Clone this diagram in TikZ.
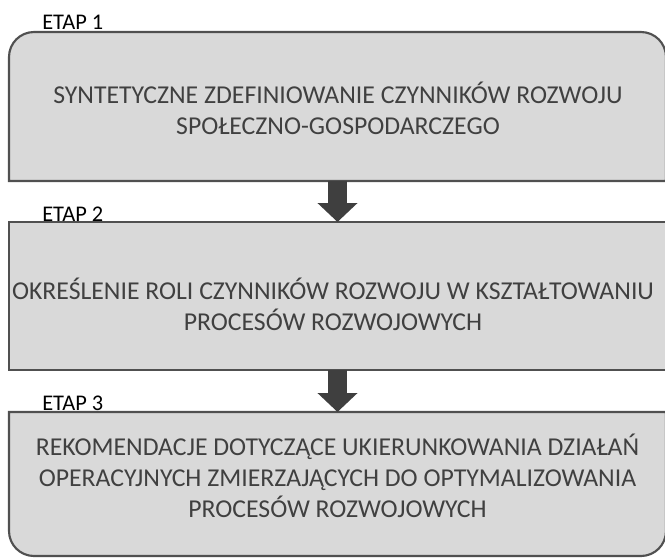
\documentclass[tikz,border=0pt]{standalone}
\usepackage{fontspec}
\setmainfont{Carlito}
\usetikzlibrary{arrows.meta,backgrounds,calc}
\definecolor{boxfill}{HTML}{D9D9D9}
\definecolor{boxline}{HTML}{505050}
\definecolor{txt}{HTML}{404040}
\definecolor{arrowc}{HTML}{3F3F3F}
\tikzset{
  px/.style={x=0.75pt,y=-0.75pt},
  boxshape/.style={draw=none,minimum width=657*0.75pt,inner sep=0pt,outer sep=0pt},
  boxpath/.style={fill=boxfill,draw=boxline,line width=1.6pt},
  bodytext/.style={text=txt,align=center,font=\fontsize{19.3}{23.25}\selectfont,inner sep=0pt},
  etaplabel/.style={text=black,anchor=base west,font=\fontsize{16.8}{18}\selectfont,inner sep=0pt},
  bigarrow/.style={draw=arrowc,line width=19*0.75pt,-{Triangle[width=39*0.75pt,length=19*0.75pt]}}
}
\begin{document}
\begin{tikzpicture}[px]
\useasboundingbox (0,0) rectangle (665,558);
\node[boxshape,minimum height=149*0.75pt] (b1) at (337.5,106.5) {};
\node[boxshape,minimum height=148*0.75pt] (b2) at (337.5,296) {};
\node[boxshape,minimum height=144*0.75pt] (b3) at (337.5,484) {};
\begin{scope}[on background layer]
\draw[boxpath] (b1.south west) [rounded corners=25*0.75pt] -- (b1.north west) -- (b1.north east) [sharp corners] -- (b1.south east) -- cycle;
\draw[boxpath] (b2.south west) rectangle (b2.north east);
\draw[boxpath] (b3.north west) -- (b3.north east) [rounded corners=25*0.75pt] -- (b3.south east) -- (b3.south west) [sharp corners] -- cycle;
\end{scope}
\node[bodytext] (t1) at (338,108.5) {SYNTETYCZNE ZDEFINIOWANIE CZYNNIKÓW ROZWOJU\\SPOŁECZNO-GOSPODARCZEGO};
\node[bodytext] (t2) at (333,304.5) {OKREŚLENIE ROLI CZYNNIKÓW ROZWOJU W KSZTAŁTOWANIU\\PROCESÓW ROZWOJOWYCH};
\node[bodytext] (t3) at (337.5,476) {REKOMENDACJE DOTYCZĄCE UKIERUNKOWANIA DZIAŁAŃ\\OPERACYJNYCH ZMIERZAJĄCYCH DO OPTYMALIZOWANIA\\PROCESÓW ROZWOJOWYCH};
\node[etaplabel] (e1) at (42,29) {ETAP 1};
\node[etaplabel] (e2) at (42,221) {ETAP 2};
\node[etaplabel] (e3) at (42,410) {ETAP 3};
\draw[bigarrow] (b1.south) -- (b2.north);
\draw[bigarrow] (b2.south) -- (b3.north);
\end{tikzpicture}
\end{document}
